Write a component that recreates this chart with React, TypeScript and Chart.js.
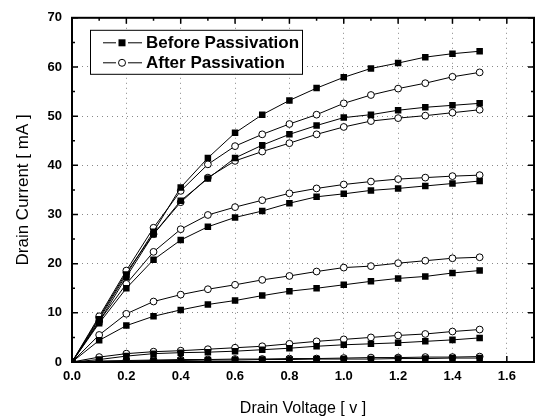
import React, { useEffect, useRef } from 'react';
import { Chart, registerables } from 'chart.js';
Chart.register(...registerables);

const drainVoltage = [0, 0.1, 0.2, 0.3, 0.4, 0.5, 0.6, 0.7, 0.8, 0.9, 1.0, 1.1, 1.2, 1.3, 1.4, 1.5];

const before1 = [0, 8.7, 17.8, 26.5, 35.5, 41.5, 46.6, 50.3, 53.2, 55.7, 57.9, 59.7, 60.8, 62.0, 62.7, 63.2];
const before2 = [0, 8.2, 17.3, 26.0, 32.8, 37.3, 41.5, 44.1, 46.3, 48.1, 49.7, 50.3, 51.2, 51.8, 52.2, 52.6];
const before3 = [0, 7.9, 15.0, 20.8, 24.8, 27.5, 29.4, 30.7, 32.3, 33.6, 34.2, 34.9, 35.3, 35.8, 36.3, 36.8];
const before4 = [0, 4.4, 7.4, 9.3, 10.6, 11.7, 12.5, 13.5, 14.4, 15.0, 15.7, 16.4, 17.0, 17.4, 18.1, 18.6];
const before5 = [0, 0.5, 1.2, 1.7, 1.9, 2.0, 2.2, 2.5, 2.8, 3.2, 3.5, 3.7, 3.9, 4.2, 4.5, 4.9];
const before6 = [0, 0.1, 0.2, 0.3, 0.3, 0.4, 0.4, 0.5, 0.5, 0.6, 0.6, 0.6, 0.7, 0.7, 0.8, 0.8];

const after1 = [0, 9.3, 18.6, 27.3, 34.8, 40.2, 43.9, 46.3, 48.4, 50.3, 52.6, 54.3, 55.6, 56.7, 58.0, 58.9];
const after2 = [0, 9.0, 18.2, 26.0, 32.5, 37.5, 40.9, 42.8, 44.5, 46.3, 47.8, 49.0, 49.6, 50.1, 50.7, 51.3];
const after3 = [0, 8.3, 15.9, 22.4, 27.0, 29.9, 31.5, 32.9, 34.3, 35.3, 36.1, 36.7, 37.2, 37.5, 37.8, 38.0];
const after4 = [0, 5.5, 9.8, 12.3, 13.7, 14.8, 15.7, 16.7, 17.5, 18.4, 19.2, 19.5, 20.1, 20.6, 21.1, 21.3];
const after5 = [0, 1.0, 1.7, 2.1, 2.3, 2.6, 2.9, 3.2, 3.7, 4.2, 4.6, 5.0, 5.4, 5.7, 6.2, 6.6];
const after6 = [0, 0.2, 0.3, 0.4, 0.5, 0.5, 0.6, 0.6, 0.7, 0.7, 0.8, 0.9, 0.9, 1.0, 1.0, 1.1];

const beforeSeries = [before1, before2, before3, before4, before5, before6];
const afterSeries = [after1, after2, after3, after4, after5, after6];

const legendLabels = ['Before Passivation', 'After Passivation'];
const xTitle = 'Drain Voltage [ v ]';
const yTitle = 'Drain Current [ mA ]';

const FONT = "'Liberation Sans', Arial, sans-serif";

const framePlugin = {
  id: 'frame',
  afterDraw(chart: any) {
    const { ctx, chartArea: a, scales } = chart;
    const x = scales.x;
    const y = scales.y;
    ctx.save();
    ctx.strokeStyle = '#000';
    ctx.lineWidth = 1.5;
    ctx.beginPath();
    for (let i = 0; i <= 17; i++) {
      const px = x.getPixelForValue(i / 10);
      const len = i % 2 === 0 ? 6 : 3;
      ctx.moveTo(px, a.bottom);
      ctx.lineTo(px, a.bottom - len);
      ctx.moveTo(px, a.top);
      ctx.lineTo(px, a.top + len);
    }
    for (let i = 0; i <= 14; i++) {
      const py = y.getPixelForValue(i * 5);
      const len = i % 2 === 0 ? 6 : 3;
      ctx.moveTo(a.left, py);
      ctx.lineTo(a.left + len, py);
      ctx.moveTo(a.right, py);
      ctx.lineTo(a.right - len, py);
    }
    ctx.stroke();
    ctx.lineWidth = 2;
    ctx.strokeRect(a.left, a.top, a.right - a.left, a.bottom - a.top);

    // legend box
    const bx = a.left + 18;
    const by = a.top + 12;
    const bw = 212;
    const bh = 44;
    ctx.fillStyle = '#fff';
    ctx.fillRect(bx, by, bw, bh);
    ctx.lineWidth = 1;
    ctx.strokeRect(bx + 0.5, by + 0.5, bw, bh);
    ctx.font = `bold 17px ${FONT}`;
    ctx.textBaseline = 'middle';
    ctx.fillStyle = '#000';
    const rows = [by + 13, by + 33];
    rows.forEach((ry, idx) => {
      const cx = bx + 32;
      ctx.beginPath();
      ctx.lineWidth = 1;
      ctx.moveTo(bx + 13, ry);
      ctx.lineTo(cx - 6, ry);
      ctx.moveTo(cx + 6, ry);
      ctx.lineTo(bx + 52, ry);
      ctx.stroke();
      if (idx === 0) {
        ctx.fillStyle = '#000';
        ctx.fillRect(cx - 3.5, ry - 3.5, 7, 7);
      } else {
        ctx.beginPath();
        ctx.fillStyle = '#fff';
        ctx.arc(cx, ry, 3.5, 0, Math.PI * 2);
        ctx.fill();
        ctx.stroke();
      }
      ctx.fillStyle = '#000';
      ctx.fillText(legendLabels[idx], bx + 56, ry + 1);
    });
    ctx.restore();
  },
};

export default function App() {
  const ref = useRef<HTMLCanvasElement>(null);
  useEffect(() => {
    document.body.style.margin = '0';
    const datasets: any[] = [];
    beforeSeries.forEach((s) => {
      datasets.push({
        data: drainVoltage.map((v, i) => ({ x: v, y: s[i] })),
        borderColor: '#000',
        borderWidth: 1,
        pointStyle: 'rect',
        pointRadius: 4.6,
        pointBackgroundColor: '#000',
        pointBorderColor: '#000',
        pointBorderWidth: 0,
      });
    });
    afterSeries.forEach((s) => {
      datasets.push({
        data: drainVoltage.map((v, i) => ({ x: v, y: s[i] })),
        borderColor: '#000',
        borderWidth: 1,
        pointStyle: 'circle',
        pointRadius: 3.4,
        pointBackgroundColor: '#fff',
        pointBorderColor: '#000',
        pointBorderWidth: 1,
      });
    });
    const chart = new Chart(ref.current!, {
      type: 'line',
      data: { datasets },
      options: {
        animation: false,
        responsive: false,
        layout: { padding: { top: 16, right: 2, left: 0, bottom: 0 } },
        plugins: { legend: { display: false }, tooltip: { enabled: false } },
        scales: {
          x: {
            type: 'linear',
            min: 0,
            max: 1.7,
            afterFit: (s: any) => { s.height = 54; },
            ticks: {
              stepSize: 0.2,
              includeBounds: false,
              padding: 7,
              color: '#000',
              font: { family: FONT, size: 13, weight: 'bold' },
              callback: (v: any) => Number(v).toFixed(1),
            },
            grid: { drawTicks: false, color: '#888', lineWidth: 1 },
            border: { display: false, dash: [1, 4] },
            title: {
              display: true,
              text: xTitle,
              color: '#000',
              font: { family: FONT, size: 16 },
              padding: { top: 0, bottom: -2 },
            },
          },
          y: {
            type: 'linear',
            min: 0,
            max: 70,
            afterFit: (s: any) => { s.width = 72; },
            ticks: {
              stepSize: 10,
              padding: 10,
              color: '#000',
              font: { family: FONT, size: 13, weight: 'bold' },
            },
            grid: { drawTicks: false, color: '#888', lineWidth: 1 },
            border: { display: false, dash: [1, 4] },
            title: {
              display: true,
              text: yTitle,
              color: '#000',
              font: { family: FONT, size: 17 },
              padding: { top: 13, bottom: 0 },
            },
          },
        },
      } as any,
      plugins: [framePlugin],
    });
    return () => chart.destroy();
  }, []);
  return (
    <div style={{ position: 'fixed', left: 0, top: 0, width: 539, height: 416, background: '#fff' }}>
      <canvas ref={ref} width={539} height={416} style={{ width: 539, height: 416 }} />
    </div>
  );
}
